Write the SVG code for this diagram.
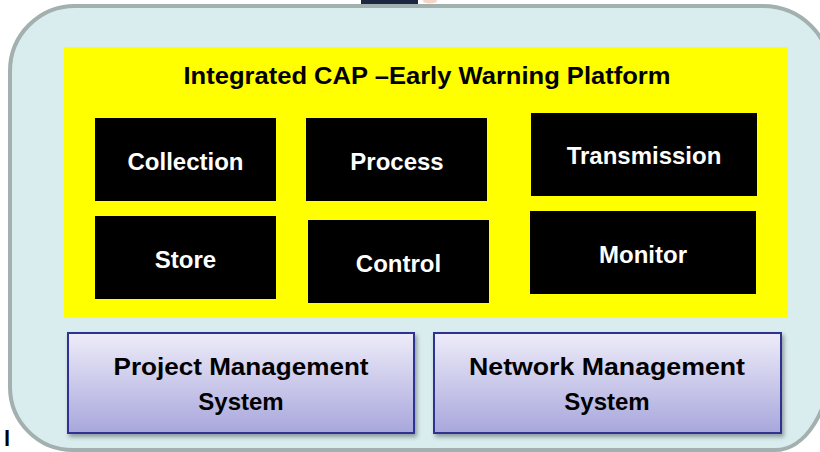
<svg xmlns="http://www.w3.org/2000/svg" width="820" height="452" viewBox="0 0 820 452">
  <style>
    .lbl { font-family: "Liberation Sans", Arial, sans-serif; font-weight: bold; font-size: 24px; text-anchor: middle; }
    .w { fill: #ffffff; }
    .k { fill: #000000; }
    .blk { fill: #000000; }
    .sys { fill: url(#sysGrad); stroke: #2e3192; stroke-width: 2; filter: url(#shadow); }
  </style>
  <defs>
    <linearGradient id="sysGrad" x1="0" y1="0" x2="0" y2="1">
      <stop offset="0" stop-color="#eeecf9"/>
      <stop offset="1" stop-color="#a8a7dc"/>
    </linearGradient>
    <filter id="shadow" x="-5%" y="-10%" width="112%" height="125%">
      <feDropShadow dx="2" dy="3" stdDeviation="2" flood-color="#000" flood-opacity="0.35"/>
    </filter>
  </defs>
  <rect width="820" height="452" fill="#ffffff"/>
  <rect x="361" y="0" width="57" height="4" fill="#1e2740"/>
  <ellipse cx="430" cy="1" rx="7" ry="2.5" fill="#f3d6c8"/>
  <g id="container">
    <path d="M 75 6 H 763 A 68 68 0 0 1 831 74 V 360 A 56 91 0 0 1 775 450 H 73 A 63 63 0 0 1 10 387 V 71 A 65 65 0 0 1 75 6 Z" fill="#d9ecee" stroke="#a3b0b0" stroke-width="4"/>
  </g>
  <g id="platform">
    <rect x="64" y="47" width="724" height="271" fill="#ffff00"/>
    <text class="lbl k" x="427" y="84" textLength="487" lengthAdjust="spacingAndGlyphs">Integrated CAP –Early Warning Platform</text>
  </g>
  <g id="collection">
    <rect class="blk" x="95" y="118" width="181" height="83"/>
    <text class="lbl w" x="185.5" y="170">Collection</text>
  </g>
  <g id="process">
    <rect class="blk" x="306" y="118" width="181" height="83"/>
    <text class="lbl w" x="397" y="170">Process</text>
  </g>
  <g id="transmission">
    <rect class="blk" x="531" y="113" width="226" height="83"/>
    <text class="lbl w" x="644" y="164">Transmission</text>
  </g>
  <g id="store">
    <rect class="blk" x="95" y="216" width="181" height="83"/>
    <text class="lbl w" x="185.5" y="268">Store</text>
  </g>
  <g id="control">
    <rect class="blk" x="308" y="220" width="181" height="83"/>
    <text class="lbl w" x="398.5" y="272">Control</text>
  </g>
  <g id="monitor">
    <rect class="blk" x="530" y="211" width="226" height="83"/>
    <text class="lbl w" x="643" y="263">Monitor</text>
  </g>
  <g id="project-management">
    <rect class="sys" x="68" y="333" width="346" height="100"/>
    <text class="lbl k" x="241" y="375" textLength="255" lengthAdjust="spacingAndGlyphs">Project Management</text>
    <text class="lbl k" x="241" y="410">System</text>
  </g>
  <g id="network-management">
    <rect class="sys" x="434" y="333" width="347" height="100"/>
    <text class="lbl k" x="607" y="375" textLength="276" lengthAdjust="spacingAndGlyphs">Network Management</text>
    <text class="lbl k" x="607" y="410">System</text>
  </g>
  <g id="connectors"></g>
  <text class="lbl k" x="7" y="446" style="font-size:22px">l</text>
</svg>
